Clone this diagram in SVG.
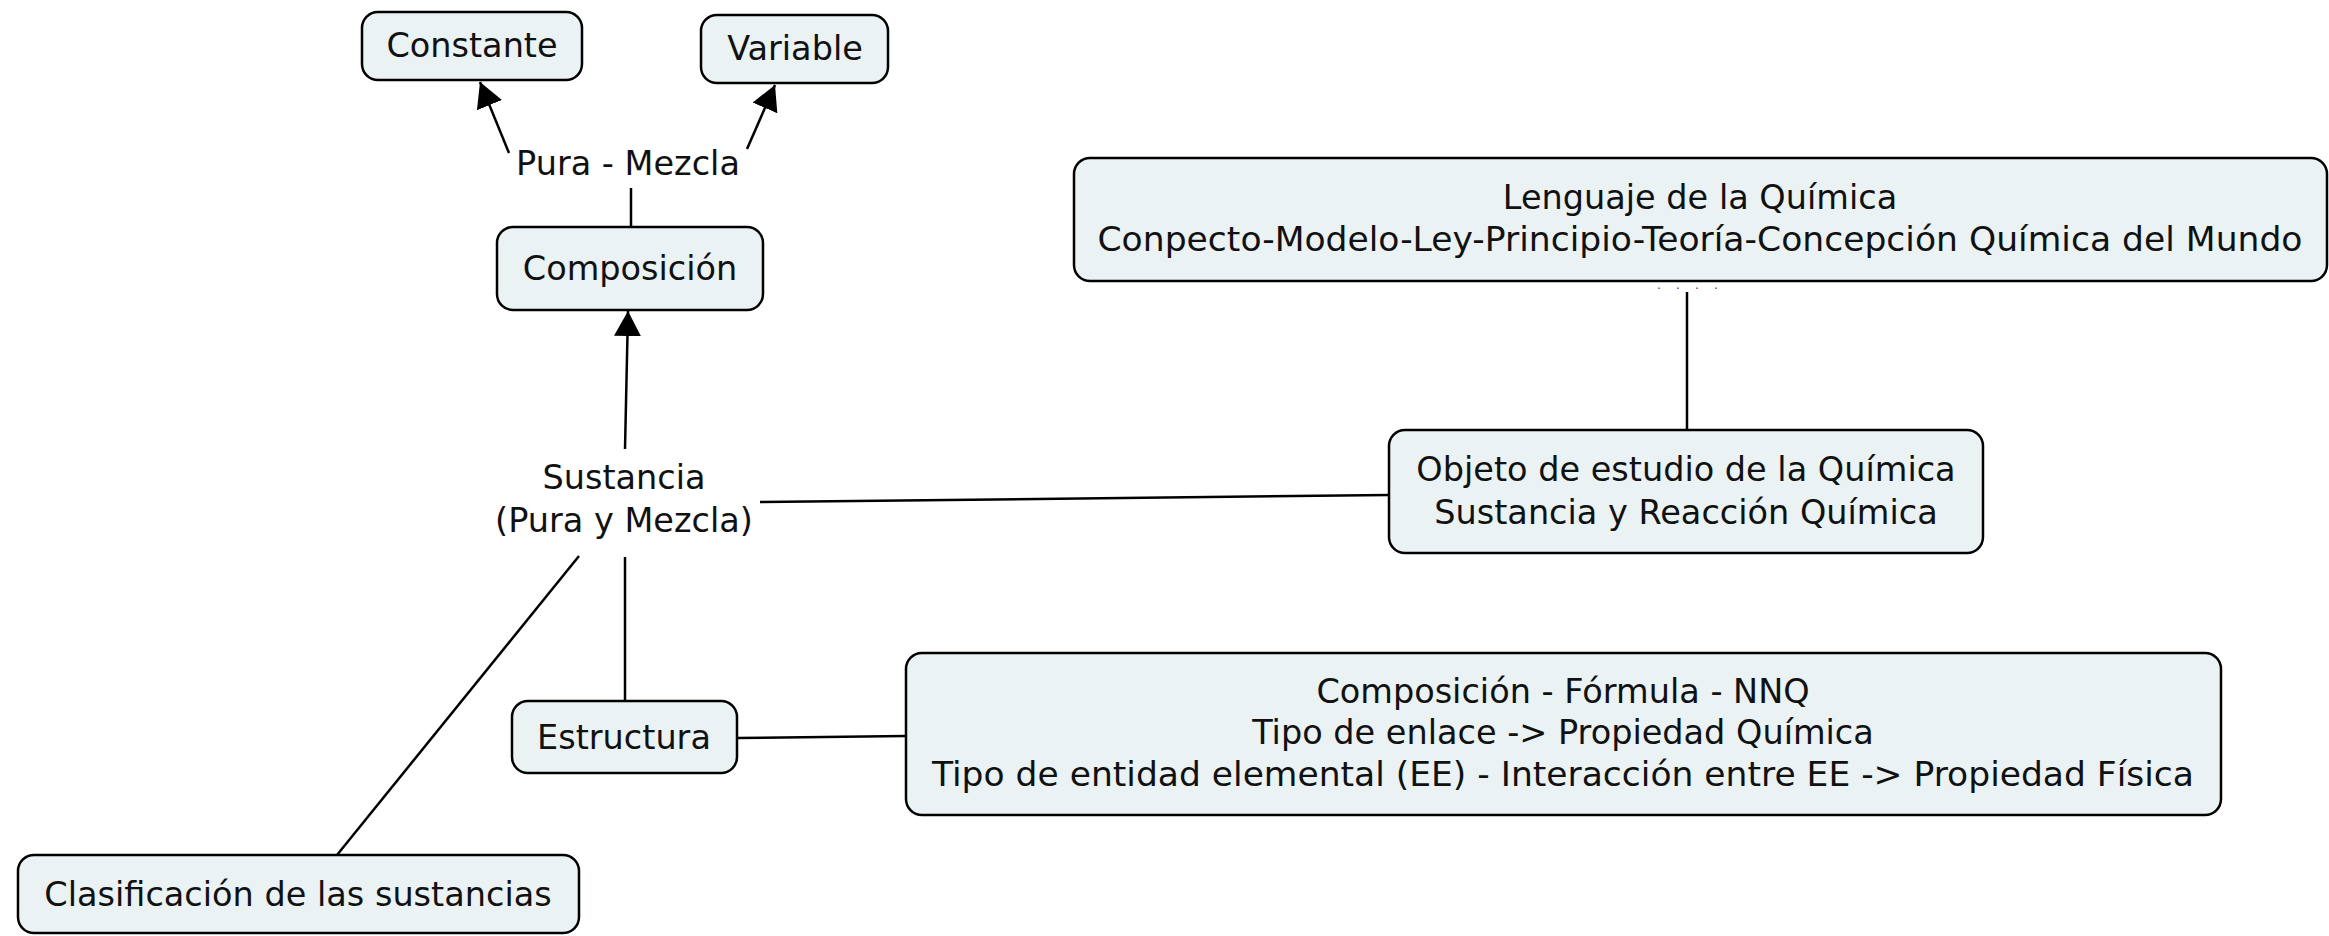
<svg xmlns="http://www.w3.org/2000/svg" width="2329" height="936" viewBox="0 0 2329 936">
<style>
.box{fill:#eaf2f4;stroke:#000;stroke-width:2.5}
.t{font-family:"DejaVu Sans",Verdana,sans-serif;font-size:33.5px;fill:#111;text-anchor:middle}
.c{stroke:#000;stroke-width:2.5;fill:none}
</style>
<defs>
<marker id="ah" markerUnits="userSpaceOnUse" markerWidth="26" markerHeight="28" refX="25" refY="13.5" orient="auto">
<path d="M0,0 L25,13.5 L0,27 z" fill="#000"/>
</marker>
</defs>
<rect width="2329" height="936" fill="#fff"/>
<g id="connectors">
<line class="c" x1="631" y1="227" x2="631" y2="188"/>
<line class="c" x1="509" y1="153" x2="480" y2="82" marker-end="url(#ah)"/>
<line class="c" x1="747" y1="149" x2="775" y2="85" marker-end="url(#ah)"/>
<line class="c" x1="625" y1="449" x2="628" y2="311" marker-end="url(#ah)"/>
<line class="c" x1="625" y1="557" x2="625" y2="701"/>
<line class="c" x1="579" y1="556" x2="337" y2="855"/>
<line class="c" x1="760" y1="502" x2="1389" y2="495"/>
<line class="c" x1="1687" y1="292" x2="1687" y2="430"/>
<line class="c" x1="737" y1="738" x2="906" y2="736"/>
<text x="1657 1676 1695 1714" y="289" style="font-family:'DejaVu Sans',sans-serif;font-size:12px;fill:#444">....</text>
</g>
<g id="constante">
<rect class="box" x="362" y="12" width="220" height="68" rx="16"/>
<text class="t" x="472" y="57">Constante</text>
</g>
<g id="variable">
<rect class="box" x="701" y="15" width="187" height="68" rx="16"/>
<text class="t" x="795" y="60">Variable</text>
</g>
<g id="pura-mezcla">
<text class="t" x="628" y="175">Pura - Mezcla</text>
</g>
<g id="composicion">
<rect class="box" x="497" y="227" width="266" height="83" rx="16"/>
<text class="t" x="630" y="280">Composición</text>
</g>
<g id="sustancia">
<text class="t" x="624" y="489">Sustancia</text>
<text class="t" x="624" y="532">(Pura y Mezcla)</text>
</g>
<g id="lenguaje">
<rect class="box" x="1074" y="158" width="1253" height="123" rx="16"/>
<text class="t" x="1700" y="209">Lenguaje de la Química</text>
<text class="t" x="1700" y="251" textLength="1205" lengthAdjust="spacingAndGlyphs">Conpecto-Modelo-Ley-Principio-Teoría-Concepción Química del Mundo</text>
</g>
<g id="objeto">
<rect class="box" x="1389" y="430" width="594" height="123" rx="16"/>
<text class="t" x="1686" y="481">Objeto de estudio de la Química</text>
<text class="t" x="1686" y="524">Sustancia y Reacción Química</text>
</g>
<g id="estructura">
<rect class="box" x="512" y="701" width="225" height="72" rx="16"/>
<text class="t" x="624" y="749">Estructura</text>
</g>
<g id="composicion-formula">
<rect class="box" x="906" y="653" width="1315" height="162" rx="16"/>
<text class="t" x="1563" y="703">Composición - Fórmula - NNQ</text>
<text class="t" x="1563" y="744">Tipo de enlace -&gt; Propiedad Química</text>
<text class="t" x="1563" y="786" textLength="1262" lengthAdjust="spacingAndGlyphs">Tipo de entidad elemental (EE) - Interacción entre EE -&gt; Propiedad Física</text>
</g>
<g id="clasificacion">
<rect class="box" x="18" y="855" width="561" height="78" rx="16"/>
<text class="t" x="298" y="906">Clasificación de las sustancias</text>
</g>
</svg>
